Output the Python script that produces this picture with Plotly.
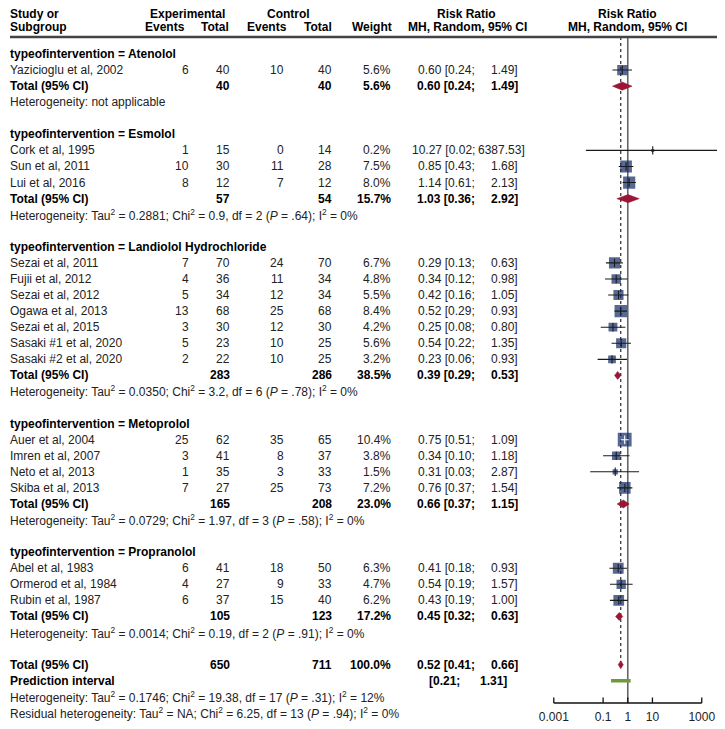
import plotly.graph_objects as go
import numpy as np

# ---------------- data ----------------
groups = ["Atenolol", "Esmolol", "Landiolol Hydrochloride", "Metoprolol", "Propranolol"]

study_names = [
    "Yazicioglu et al, 2002",
    "Cork et al, 1995", "Sun et al, 2011", "Lui et al, 2016",
    "Sezai et al, 2011", "Fujii et al, 2012", "Sezai et al, 2012", "Ogawa et al, 2013",
    "Sezai et al, 2015", "Sasaki #1 et al, 2020", "Sasaki #2 et al, 2020",
    "Auer et al, 2004", "Imren et al, 2007", "Neto et al, 2013", "Skiba et al, 2013",
    "Abel et al, 1983", "Ormerod et al, 1984", "Rubin et al, 1987",
]
study_group = [0, 1, 1, 1, 2, 2, 2, 2, 2, 2, 2, 3, 3, 3, 3, 4, 4, 4]
ev_exp = [6, 1, 10, 8, 7, 4, 5, 13, 3, 5, 2, 25, 3, 1, 7, 6, 4, 6]
n_exp = [40, 15, 30, 12, 70, 36, 34, 68, 30, 23, 22, 62, 41, 35, 27, 41, 27, 37]
ev_ctl = [10, 0, 11, 7, 24, 11, 12, 25, 12, 10, 10, 35, 8, 3, 25, 18, 9, 15]
n_ctl = [40, 14, 28, 12, 70, 34, 34, 68, 30, 25, 25, 65, 37, 33, 73, 50, 33, 40]
weight = [5.6, 0.2, 7.5, 8.0, 6.7, 4.8, 5.5, 8.4, 4.2, 5.6, 3.2, 10.4, 3.8, 1.5, 7.2, 6.3, 4.7, 6.2]
rr = [0.60, 10.27, 0.85, 1.14, 0.29, 0.34, 0.42, 0.52, 0.25, 0.54, 0.23, 0.75, 0.34, 0.31, 0.76, 0.41, 0.54, 0.43]
rr_lo = [0.24, 0.02, 0.43, 0.61, 0.13, 0.12, 0.16, 0.29, 0.08, 0.22, 0.06, 0.51, 0.10, 0.03, 0.37, 0.18, 0.19, 0.19]
rr_hi = [1.49, 6387.53, 1.68, 2.13, 0.63, 0.98, 1.05, 0.93, 0.80, 1.35, 0.93, 1.09, 1.18, 2.87, 1.54, 0.93, 1.57, 1.00]

grp_n_exp = [40, 57, 283, 165, 105]
grp_n_ctl = [40, 54, 286, 208, 123]
grp_weight = [5.6, 15.7, 38.5, 23.0, 17.2]
grp_rr = [0.60, 1.03, 0.39, 0.66, 0.45]
grp_lo = [0.24, 0.36, 0.29, 0.37, 0.32]
grp_hi = [1.49, 2.92, 0.53, 1.15, 0.63]
# (tau2, chi2, df, p, i2) ; None = not applicable
grp_het = [None, ("0.2881", "0.9", 2, ".64", "0%"), ("0.0350", "3.2", 6, ".78", "0%"),
           ("0.0729", "1.97", 3, ".58", "0%"), ("0.0014", "0.19", 2, ".91", "0%")]

tot_n_exp, tot_n_ctl, tot_weight = 650, 711, 100.0
tot_rr, tot_lo, tot_hi = 0.52, 0.41, 0.66
pred_lo, pred_hi = 0.21, 1.31
tot_het = ("0.1746", "19.38", 17, ".31", "12%")
resid_het = ("NA", "6.25", 13, ".94", "0%")

tick_vals = [0.001, 0.1, 1, 10, 1000]
tick_text = ["0.001", "0.1", "1", "10", "1000"]

# ---------------- layout helpers ----------------
PAGE_W, PAGE_H, OFF = 725, 729, 8          # browser body margin offsets the plot by 8px
W, H = PAGE_W - OFF, PAGE_H - OFF
ROW0, DY = 54.0, 16.07
FONT = "Liberation Sans, Arial, sans-serif"
TXT = "#222222"
NAVY = "#0f2a64"
RED = "#9b1636"
GREEN = "#6f9a3b"
PX_PER_DEC = 24.73
LOG1_PX = 627.5
X2_L, X2_R = 540.0, 725.0


def row_of(px):
    return (px - ROW0) / DY


def xp(px):
    return (px - OFF) / W


annotations = []


def T(xpx, row, text, anchor="left", bold=False):
    if bold:
        text = "<b>" + text + "</b>"
    annotations.append(dict(x=xp(xpx), xref="paper", y=row, yref="y", text=text,
                            showarrow=False, xanchor=anchor, yanchor="middle",
                            borderpad=0, borderwidth=0,
                            font=dict(size=12, color="#000000" if bold else TXT, family=FONT)))


def het_text(h, prefix="Heterogeneity"):
    if h is None:
        return prefix + ": not applicable"
    tau, chi, df, p, i2 = h
    return (prefix + ": Tau<sup>2</sup> = " + tau + "; Chi<sup>2</sup> = " + chi +
            ", df = " + str(df) + " (<i>P</i> = " + p + "); I<sup>2</sup> = " + i2)


C_LABEL, C_EE, C_NE, C_EC, C_NC, C_W, C_RA, C_RB = 8, 188, 229, 283, 331, 390, 474, 517


def rr_cols(row, m, lo, hi, bold=False):
    T(C_RA, row, f"{m:.2f} [{lo:.2f};", "right", bold)
    up = f"{hi:.2f}]"
    if len(up) > 6:
        T(C_RA + 3, row, up, "left", bold)
    else:
        T(C_RB, row, up, "right", bold)


# headers
r1, r2 = row_of(13.5), row_of(27)
T(C_LABEL, r1, "Study or", bold=True)
T(C_LABEL, r2, "Subgroup", bold=True)
T(185.5, r1, "Experimental", "center", True)
T(163, r2, "Events", "center", True)
T(213.5, r2, "Total", "center", True)
T(287.5, r1, "Control", "center", True)
T(266, r2, "Events", "center", True)
T(316.5, r2, "Total", "center", True)
T(391, r2, "Weight", "right", True)
T(466, r1, "Risk Ratio", "center", True)
T(467, r2, "MH, Random, 95% CI", "center", True)
T(627, r1, "Risk Ratio", "center", True)
T(627.5, r2, "MH, Random, 95% CI", "center", True)

# rows
study_rows = {}
grp_rows = []
r = 0
for gi, g in enumerate(groups):
    T(C_LABEL, r, "typeofintervention = " + g, bold=True)
    r += 1
    for si in [i for i, sg in enumerate(study_group) if sg == gi]:
        study_rows[si] = r
        T(C_LABEL, r, study_names[si])
        T(C_EE, r, str(ev_exp[si]), "right")
        T(C_NE, r, str(n_exp[si]), "right")
        T(C_EC, r, str(ev_ctl[si]), "right")
        T(C_NC, r, str(n_ctl[si]), "right")
        T(C_W, r, f"{weight[si]:.1f}%", "right")
        rr_cols(r, rr[si], rr_lo[si], rr_hi[si])
        r += 1
    grp_rows.append(r)
    T(C_LABEL, r, "Total (95% CI)", bold=True)
    T(C_NE, r, str(grp_n_exp[gi]), "right", True)
    T(C_NC, r, str(grp_n_ctl[gi]), "right", True)
    T(C_W, r, f"{grp_weight[gi]:.1f}%", "right", True)
    rr_cols(r, grp_rr[gi], grp_lo[gi], grp_hi[gi], True)
    r += 1
    T(C_LABEL, r, het_text(grp_het[gi]))
    r += 2

tot_row = r
T(C_LABEL, tot_row, "Total (95% CI)", bold=True)
T(C_NE, tot_row, str(tot_n_exp), "right", True)
T(C_NC, tot_row, str(tot_n_ctl), "right", True)
T(C_W, tot_row, f"{tot_weight:.1f}%", "right", True)
rr_cols(tot_row, tot_rr, tot_lo, tot_hi, True)
pred_row = tot_row + 1
T(C_LABEL, pred_row, "Prediction interval", bold=True)
T(459, pred_row, f"[{pred_lo:.2f};", "right", True)
T(506, pred_row, f"{pred_hi:.2f}]", "right", True)
T(C_LABEL, pred_row + 1, het_text(tot_het))
T(C_LABEL, pred_row + 2, het_text(resid_het, "Residual heterogeneity"))

# ---------------- forest traces ----------------
fig = go.Figure()
fig.add_trace(go.Scatter(x=[0], y=[0], mode="markers", marker=dict(opacity=0),
                         hoverinfo="skip", showlegend=False, xaxis="x", yaxis="y"))

FX, FY = "x2", "y2"
top_row = row_of(37)
axis_row = row_of(703)

# reference lines
fig.add_trace(go.Scatter(x=[1, 1], y=[top_row, axis_row], mode="lines",
                         line=dict(color="#666666", width=1.6), xaxis=FX, yaxis=FY,
                         showlegend=False, hoverinfo="skip"))
fig.add_trace(go.Scatter(x=[tot_rr, tot_rr], y=[top_row, tot_row], mode="lines",
                         line=dict(color="#111111", width=1.1, dash="3px,3px"),
                         xaxis=FX, yaxis=FY, showlegend=False, hoverinfo="skip"))

# squares
idx = list(range(len(study_names)))
sizes = [max(3.0, 4.3 * np.sqrt(w)) for w in weight]
ys = [study_rows[i] for i in idx]
fig.add_trace(go.Scatter(x=rr, y=ys, mode="markers",
                         marker=dict(symbol="square", size=sizes, color=NAVY,
                                     line=dict(width=0)),
                         xaxis=FX, yaxis=FY, showlegend=False, hoverinfo="skip"))

# CI lines: white if entirely inside the square
cx_b, cy_b, cx_w, cy_w = [], [], [], []
tx_b, ty_b, tx_w, ty_w = [], [], [], []
for i in idx:
    half = sizes[i] / 2.0
    ext = max(np.log10(rr_hi[i] / rr[i]), np.log10(rr[i] / rr_lo[i])) * PX_PER_DEC
    inside = ext < half
    xs = cx_w if inside else cx_b
    yy = cy_w if inside else cy_b
    xs += [rr_lo[i], rr_hi[i], None]
    yy += [ys[i], ys[i], None]
    if inside:
        tx_w.append(rr[i]); ty_w.append(ys[i])
    else:
        tx_b.append(rr[i]); ty_b.append(ys[i])
fig.add_trace(go.Scatter(x=cx_b, y=cy_b, mode="lines", line=dict(color="#1a1a1a", width=1.1),
                         xaxis=FX, yaxis=FY, showlegend=False, hoverinfo="skip"))
fig.add_trace(go.Scatter(x=cx_w, y=cy_w, mode="lines", line=dict(color="#ffffff", width=1.1),
                         xaxis=FX, yaxis=FY, showlegend=False, hoverinfo="skip"))
fig.add_trace(go.Scatter(x=tx_b, y=ty_b, mode="markers",
                         marker=dict(symbol="line-ns", size=6, line=dict(color="#1a1a1a", width=1.1)),
                         xaxis=FX, yaxis=FY, showlegend=False, hoverinfo="skip"))
fig.add_trace(go.Scatter(x=tx_w, y=ty_w, mode="markers",
                         marker=dict(symbol="line-ns", size=6, line=dict(color="#ffffff", width=1.1)),
                         xaxis=FX, yaxis=FY, showlegend=False, hoverinfo="skip"))

# diamonds
HH = 0.25
dia = list(zip(grp_rows, grp_rr, grp_lo, grp_hi)) + [(tot_row, tot_rr, tot_lo, tot_hi)]
for (ry, m, lo, hi) in dia:
    fig.add_trace(go.Scatter(x=[lo, m, hi, m, lo], y=[ry, ry - HH, ry, ry + HH, ry],
                             mode="lines", fill="toself", fillcolor=RED,
                             line=dict(color=RED, width=0.5),
                             xaxis=FX, yaxis=FY, showlegend=False, hoverinfo="skip"))

# prediction interval
fig.add_trace(go.Scatter(x=[pred_lo, pred_hi], y=[pred_row, pred_row], mode="lines",
                         line=dict(color=GREEN, width=3.5), xaxis=FX, yaxis=FY,
                         showlegend=False, hoverinfo="skip"))

# axis line and ticks
ax_x = [tick_vals[0], tick_vals[-1], None]
ax_y = [axis_row, axis_row, None]
for tv in tick_vals:
    ax_x += [tv, tv, None]
    ax_y += [axis_row, axis_row - 5.5 / DY, None]
fig.add_trace(go.Scatter(x=ax_x, y=ax_y, mode="lines", line=dict(color="#111111", width=1.3),
                         xaxis=FX, yaxis=FY, showlegend=False, hoverinfo="skip"))

# header separator line
shapes = [dict(type="line", xref="paper", yref="y", x0=0, x1=1, y0=row_of(37), y1=row_of(37),
               line=dict(color="#444444", width=2.5))]

x2_range = [(X2_L - LOG1_PX) / PX_PER_DEC, (X2_R - LOG1_PX) / PX_PER_DEC]

fig.update_layout(
    width=W, height=H, margin=dict(l=0, r=0, t=0, b=0),
    paper_bgcolor="white", plot_bgcolor="rgba(0,0,0,0)",
    font=dict(family=FONT, size=12, color=TXT),
    showlegend=False,
    xaxis=dict(domain=[0, 1], range=[0, 1], visible=False),
    yaxis=dict(domain=[0, 1], range=[row_of(PAGE_H), row_of(OFF)], visible=False),
    xaxis2=dict(domain=[xp(X2_L), xp(X2_R)], type="log", range=x2_range, anchor="y2",
                showgrid=False, zeroline=False, showline=False, ticks="",
                tickvals=tick_vals, ticktext=tick_text, ticklabelstandoff=4,
                tickfont=dict(size=12, color=TXT, family=FONT)),
    yaxis2=dict(domain=[(PAGE_H - 704) / H, 1], range=[row_of(704), row_of(OFF)], anchor="x2",
                visible=False),
    annotations=annotations, shapes=shapes,
)

fig.write_html("out.html")
